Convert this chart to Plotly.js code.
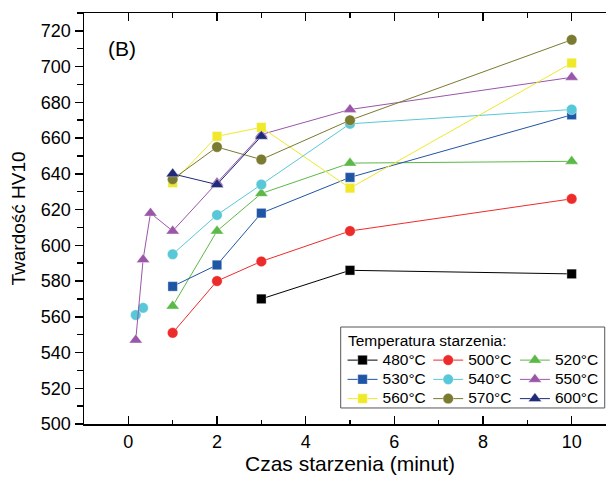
<!DOCTYPE html>
<html>
<head>
<meta charset="utf-8">
<script src="https://cdn.plot.ly/plotly-3.0.1.min.js"></script>
<style>
  html, body { margin: 0; padding: 0; background: #fff; overflow: hidden; }
  #chart { width: 621px; height: 483px; }
</style>
</head>
<body>
<div id="chart"></div>
<script>
// Hardness HV10 vs ageing time for each ageing temperature
const t480 = [3, 5, 10];
const hv480 = [570, 586, 584];

const t500 = [1, 2, 3, 5, 10];
const hv500 = [551, 580, 591, 608, 626];

const t520 = [1, 2, 3, 5, 10];
const hv520 = [566, 608, 629, 646, 647];

const t530 = [1, 2, 3, 5, 10];
const hv530 = [577, 589, 618, 638, 673];

// no measurement at 30 s for 540 °C, so the line breaks there
const t540 = [0.167, 0.333, 0.5, 1, 2, 3, 5, 10];
const hv540 = [561, 565, null, 595, 617, 634, 668, 676];

const t550 = [0.167, 0.333, 0.5, 1, 2, 3, 5, 10];
const hv550 = [547, 592, 618, 608, 635, 662, 676, 694];

const t560 = [1, 2, 3, 5, 10];
const hv560 = [635, 661, 666, 632, 702];

const t570 = [1, 2, 3, 5, 10];
const hv570 = [637, 655, 648, 670, 715];

const t600 = [1, 2, 3];
const hv600 = [640, 634, 661];

const seriesNames = ['480°C', '500°C', '520°C', '530°C', '540°C', '550°C', '560°C', '570°C', '600°C'];

const FONT = 'Liberation Sans, Arial, Helvetica, sans-serif';

function series(x, y, name, color, symbol, size, legendId) {
  return {
    x: x, y: y, name: '<span style="font-size:15.5px">' + name + '</span>',
    type: 'scatter', mode: 'lines+markers',
    line: { color: color, width: 1 },
    marker: { color: color, symbol: symbol, size: size, line: { color: 'rgba(255,255,255,0.7)', width: 0.5 } },
    legend: legendId,
    hoverinfo: 'x+y'
  };
}

const traces = [
  series(t480, hv480, seriesNames[0], '#000000', 'square', 9.5, 'legend'),
  series(t500, hv500, seriesNames[1], '#ee2b2b', 'circle', 10.5, 'legend2'),
  series(t520, hv520, seriesNames[2], '#5cb847', 'triangle-up', 11.5, 'legend3'),
  series(t530, hv530, seriesNames[3], '#1f55a5', 'square', 9.5, 'legend'),
  series(t540, hv540, seriesNames[4], '#58c8d8', 'circle', 10.5, 'legend2'),
  series(t550, hv550, seriesNames[5], '#9a56a8', 'triangle-up', 11.5, 'legend3'),
  series(t560, hv560, seriesNames[6], '#efe92a', 'square', 9.5, 'legend'),
  series(t570, hv570, seriesNames[7], '#7a7a30', 'circle', 10.5, 'legend2'),
  series(t600, hv600, seriesNames[8], '#1f2a78', 'triangle-up', 11.5, 'legend3')
];

const legendBase = {
  orientation: 'v',
  xanchor: 'left', yanchor: 'top',
  y: 0.191,
  bgcolor: 'rgba(0,0,0,0)',
  borderwidth: 0,
  font: { family: FONT, size: 12.5, color: '#000' },
  itemclick: false, itemdoubleclick: false
};

const layout = {
  width: 621, height: 483,
  margin: { l: 84, r: 5, t: 13, b: 59 },
  paper_bgcolor: '#fff', plot_bgcolor: '#fff',
  font: { family: FONT, color: '#000' },
  showlegend: true,
  xaxis: {
    range: [-1, 11],
    dtick: 2, tick0: 0,
    ticks: 'inside', ticklen: 8, tickwidth: 1.5, tickcolor: '#000',
    minor: { dtick: 1, ticks: 'inside', ticklen: 4.5, tickwidth: 1.5, tickcolor: '#000' },
    showline: true, linecolor: '#000', linewidth: 1.5, mirror: 'allticks',
    showgrid: false, zeroline: false,
    tickfont: { family: FONT, size: 18, color: '#000' },
    ticklabelstandoff: 1,
    title: { text: 'Czas starzenia (minut)', font: { family: FONT, size: 21, color: '#000' }, standoff: 0 }
  },
  yaxis: {
    range: [500, 730],
    dtick: 20, tick0: 500,
    ticks: 'outside', ticklen: 8, tickwidth: 1.5, tickcolor: '#000',
    minor: { dtick: 10, ticks: 'outside', ticklen: 5.5, tickwidth: 1.5, tickcolor: '#000' },
    showline: true, linecolor: '#000', linewidth: 1.5, mirror: true,
    showgrid: false, zeroline: false,
    tickfont: { family: FONT, size: 18, color: '#000' },
    title: { text: 'Twardość HV10', font: { family: FONT, size: 19, color: '#000' }, standoff: 10 }
  },
  legend: Object.assign({}, legendBase, { x: 0.486 }),
  legend2: Object.assign({}, legendBase, { x: 0.647 }),
  legend3: Object.assign({}, legendBase, { x: 0.810 }),
  shapes: [{
    type: 'rect', xref: 'paper', yref: 'paper',
    x0: 0.4825, x1: 0.9788, y0: 0.039, y1: 0.236,
    line: { color: '#555', width: 1 }, fillcolor: '#fff', layer: 'above'
  }],
  annotations: [
    { xref: 'paper', yref: 'paper', x: 0.4925, y: 0.202, xanchor: 'left', yanchor: 'middle',
      text: 'Temperatura starzenia:', showarrow: false,
      font: { family: FONT, size: 15.5, color: '#000' } },
    { xref: 'paper', yref: 'paper', x: 0.0716, y: 0.913, xanchor: 'center', yanchor: 'middle',
      text: '(B)', showarrow: false,
      font: { family: FONT, size: 21, color: '#000' } }
  ]
};

Plotly.newPlot('chart', traces, layout, { displayModeBar: false, staticPlot: true });
</script>
</body>
</html>
